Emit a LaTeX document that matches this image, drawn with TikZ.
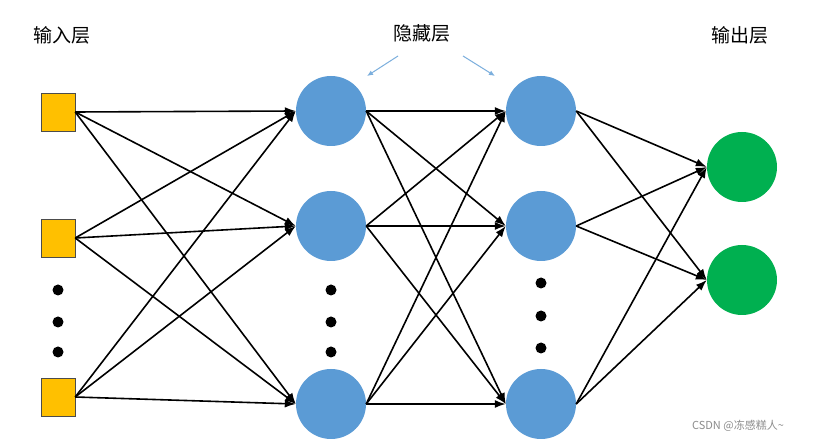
\documentclass[tikz,border=0pt]{standalone}
\usepackage{fontspec}
\newfontfamily\cjk{Noto Sans CJK SC}
\newfontfamily\cjkb{Noto Sans CJK SC Medium}
\usetikzlibrary{arrows.meta}
\definecolor{sq}{HTML}{FFC000}
\definecolor{bl}{HTML}{5B9BD5}
\definecolor{gr}{HTML}{00B050}
\tikzset{
  inbox/.style={draw=black!70,fill=sq,minimum width=34pt,minimum height=38pt,inner sep=0pt},
  hid/.style={circle,fill=bl,minimum size=70pt,inner sep=0pt},
  outn/.style={circle,fill=gr,minimum size=70pt,inner sep=0pt},
  dotn/.style={circle,fill=black,minimum width=11pt,minimum height=9pt,inner sep=0pt},
  edge/.style={-{Latex[length=11pt,width=8pt]},line width=1.6pt},
  lbl/.style={font=\cjk\fontsize{19pt}{22pt}\selectfont},
  small/.style={-{Latex[length=6pt,width=5pt]},draw=bl!80,line width=1pt}
}
\begin{document}
\begin{tikzpicture}[x=1pt,y=-1pt]
\useasboundingbox[fill=white] (0,0) rectangle (817,443);
\node[inbox] (i1) at (58,112) {};
\node[inbox] (i2) at (58,238) {};
\node[inbox] (i3) at (58,397) {};
\foreach \n/\x/\y in {h1/331/111,h2/331/226,h3/331/404,g1/541/111,g2/541/226,g3/541/404}
  \node[hid] (\n) at (\x,\y) {};
\node[outn] (o1) at (742,167) {};
\node[outn] (o2) at (742,280) {};
\foreach \n/\x/\y in {a1/58/290,a2/58/322,a3/58/352,b1/331/290,b2/331/322,b3/331/352,c1/541/283,c2/541/316,c3/541/348}
  \node[dotn] (\n) at (\x,\y) {};
\foreach \s in {i1,i2,i3} \foreach \t in {h1,h2,h3} \draw[edge] (\s.east) -- (\t.west);
\foreach \s in {h1,h2,h3} \foreach \t in {g1,g2,g3} \draw[edge] (\s.east) -- (\t.west);
\foreach \s in {g1,g2,g3} \foreach \t in {o1,o2} \draw[edge] (\s.east) -- (\t.west);
\node[lbl] (l1) at (62,35) {输入层};
\node[lbl] (l2) at (422,33) {隐藏层};
\node[lbl] (l3) at (740,35) {输出层};
\coordinate (e1) at (367,76);
\coordinate (e2) at (495,76);
\draw[small] (398,56) -- (e1);
\draw[small] (463,56) -- (e2);
\node[font=\cjk\fontsize{11pt}{13pt}\selectfont,text=black!45] (wm) at (738,426) {CSDN @冻感糕人\textasciitilde};
\end{tikzpicture}
\end{document}
